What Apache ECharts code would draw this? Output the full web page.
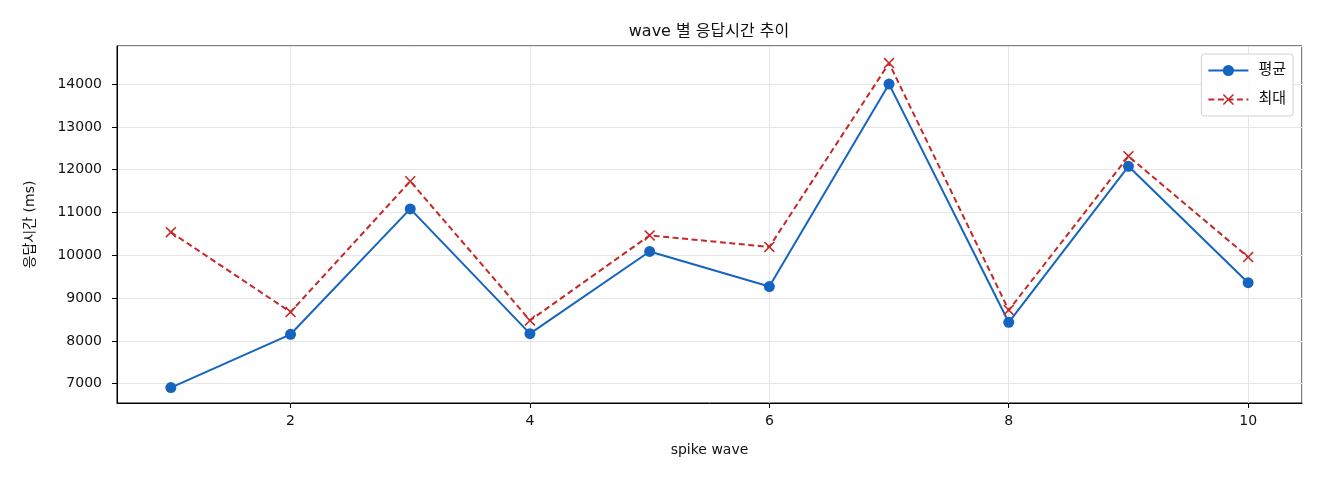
<!DOCTYPE html>
<html>
<head>
<meta charset="utf-8">
<script src="https://cdn.jsdelivr.net/npm/echarts@6/dist/echarts.min.js"></script>
<style>
 html, body { margin: 0; padding: 0; background: #fff; }
 #chart { width: 1320px; height: 480px; }
</style>
</head>
<body>
<div id="chart"></div>
<script>
// wave 번호
var waves = [1, 2, 3, 4, 5, 6, 7, 8, 9, 10];
// 평균 응답시간 (ms)
var avgTimes = [6910, 8155, 11085, 8170, 10090, 9270, 14000, 8435, 12080, 9360];
// 최대 응답시간 (ms)
var maxTimes = [10540, 8675, 11730, 8480, 10465, 10195, 14490, 8720, 12315, 9960];

var font = '"DejaVu Sans", "Noto Sans CJK KR", sans-serif';

function pairs(xs, ys) {
 return xs.map(function (x, i) { return [x, ys[i]]; });
}

var crossPath = 'path://M0,1L1,0L5,4L9,0L10,1L6,5L10,9L9,10L5,6L1,10L0,9L4,5Z';

var chart = echarts.init(document.getElementById('chart'), null, { renderer: 'canvas' });

var option = {
 backgroundColor: '#fff',
 animation: false,
 title: {
  text: 'wave 별 응답시간 추이',
  left: 704,
  textAlign: 'center',
  top: 19,
  textStyle: { fontFamily: font, fontSize: 16, fontWeight: 'normal', color: '#111' }
 },
 legend: {
  orient: 'vertical',
  right: 27,
  top: 54,
  padding: [9, 7, 9, 6],
  itemGap: 14,
  itemWidth: 40,
  itemHeight: 14,
  borderColor: '#d0d0d0',
  borderWidth: 1,
  borderRadius: 3,
  backgroundColor: 'rgba(255,255,255,0.85)',
  textStyle: { fontFamily: font, fontSize: 15, color: '#111', padding: [0, 0, 0, 5] },
  data: ['평균', '최대']
 },
 grid: {
  left: 117, right: 18, top: 46, bottom: 77,
  show: true, borderColor: '#000', borderWidth: 1,
  containLabel: false
 },
 xAxis: {
  type: 'value',
  min: 0.55,
  max: 10.45,
  splitNumber: 5,
  name: 'spike wave',
  nameLocation: 'middle',
  nameGap: 40,
  nameTextStyle: { fontFamily: font, fontSize: 14, color: '#111' },
  axisLine: { show: true, lineStyle: { color: '#000', width: 1 } },
  axisTick: { show: true, inside: false, length: 5, lineStyle: { color: '#000' } },
  axisLabel: {
   showMinLabel: false, showMaxLabel: false,
   margin: 11, fontFamily: font, fontSize: 14, color: '#111'
  },
  splitLine: { show: true, lineStyle: { color: '#e6e6e6', width: 1 } }
 },
 yAxis: {
  type: 'value',
  min: 6550,
  max: 14890,
  splitNumber: 8,
  name: '응답시간 (ms)',
  nameLocation: 'middle',
  nameGap: 80,
  nameTextStyle: { fontFamily: font, fontSize: 14, color: '#111' },
  axisLine: { show: true, lineStyle: { color: '#000', width: 1 } },
  axisTick: { show: true, inside: false, length: 5, lineStyle: { color: '#000' } },
  axisLabel: {
   showMinLabel: false, showMaxLabel: false,
   margin: 15, fontFamily: font, fontSize: 14, color: '#111',
   formatter: function (v) { return String(v); }
  },
  splitLine: { show: true, lineStyle: { color: '#e6e6e6', width: 1 } }
 },
 series: [
  {
   name: '평균',
   type: 'line',
   data: pairs(waves, avgTimes),
   symbol: 'circle',
   symbolSize: 11,
   lineStyle: { color: '#1565c0', width: 2 },
   itemStyle: { color: '#1565c0' },
   z: 3
  },
  {
   name: '최대',
   type: 'line',
   data: pairs(waves, maxTimes),
   symbol: crossPath,
   symbolSize: 11,
   lineStyle: { color: '#c62828', width: 2, type: [6, 3.5] },
   itemStyle: { color: '#c62828' },
   z: 4
  }
 ]
};

chart.setOption(option);
</script>
</body>
</html>
